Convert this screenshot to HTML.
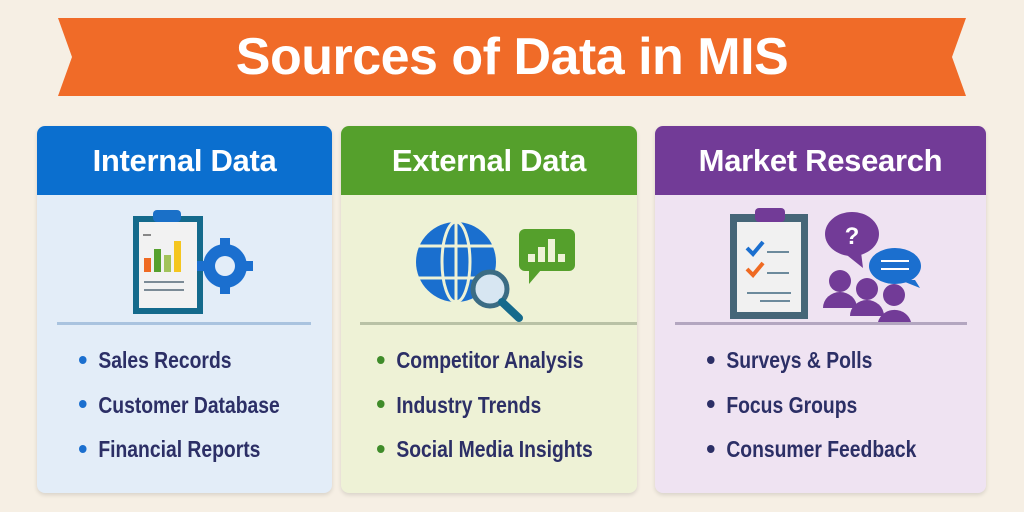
<!DOCTYPE html>
<html><head><style>
body{margin:0;width:1024px;height:512px;background:#f6efe4;font-family:"Liberation Sans",sans-serif;position:relative;overflow:hidden}
.ban{position:absolute;left:0;top:0}
.title{position:absolute;left:0;width:1024px;top:24px;text-align:center;color:#fff;font-weight:bold;font-size:52px;line-height:66px;letter-spacing:-0.5px}
.card{position:absolute;top:126px;height:367px;border-radius:8px;box-shadow:0 2px 4px rgba(0,0,0,.12);overflow:hidden}
.hd{height:69px;color:#fff;font-weight:bold;font-size:31px;line-height:69px;text-align:center;letter-spacing:-0.3px}
.div{position:absolute;top:196px;height:3px}
ul{position:absolute;top:220px;margin:0;padding:0;list-style:none}
li{font-weight:bold;font-size:23px;color:#2c2f66;height:44.5px;line-height:28px;white-space:nowrap;transform:scaleX(.84);transform-origin:left}
li b{display:inline-block;width:9px;height:8px;border-radius:50%;margin-right:14px;vertical-align:middle;position:relative;top:-2px}
svg.ic{position:absolute;top:80px}
</style></head><body>
<svg class="ban" width="1024" height="110"><polygon points="58,18 966,18 952,57 966,96 58,96 72,57" fill="#f06b28"/></svg>
<div class="title">Sources of Data in MIS</div>

<div class="card" style="left:37px;width:295px;background:#e3edf8">
<div class="hd" style="background:#0b6fcf">Internal Data</div>
<svg class="ic" style="left:90px" width="140" height="110">
<rect x="6" y="10" width="70" height="98" fill="#146a8c"/><rect x="12" y="16" width="58" height="86" fill="#f2f2f2"/>
<rect x="26" y="4" width="28" height="12" rx="4" fill="#1a70c8"/>
<rect x="16" y="28" width="8" height="2" fill="#888"/>
<rect x="17" y="52" width="7" height="14" fill="#ef6a22"/><rect x="27" y="43" width="7" height="23" fill="#57a12e"/><rect x="37" y="49" width="7" height="17" fill="#a2c35a"/><rect x="47" y="35" width="7" height="31" fill="#f5c61f"/>
<rect x="17" y="75" width="40" height="2" fill="#7c8b96"/><rect x="17" y="83" width="40" height="2" fill="#7c8b96"/>
<circle cx="98" cy="60" r="22" fill="#1b6fcf"/><circle cx="98" cy="60" r="10" fill="#e3edf8"/>
<g fill="#1b6fcf"><rect x="93" y="32" width="10" height="10"/><rect x="93" y="78" width="10" height="10"/><rect x="70" y="55" width="10" height="10"/><rect x="116" y="55" width="10" height="10"/></g>
</svg>
<div class="div" style="left:20px;width:254px;background:#a9c3df"></div>
<ul style="left:42px"><li><b style="background:#1b6fcf"></b>Sales Records</li><li><b style="background:#1b6fcf"></b>Customer Database</li><li><b style="background:#1b6fcf"></b>Financial Reports</li></ul>
</div>

<div class="card" style="left:341px;width:296px;background:#eef2d6">
<div class="hd" style="background:#55a02c">External Data</div>
<svg class="ic" style="left:70px" width="180" height="120">
<circle cx="45" cy="56" r="40" fill="#1a6fcf"/>
<g stroke="#eef2d6" stroke-width="3" fill="none"><ellipse cx="45" cy="56" rx="14" ry="40"/><line x1="5" y1="40" x2="85" y2="40"/><line x1="5" y1="72" x2="85" y2="72"/><line x1="45" y1="16" x2="45" y2="96"/></g>
<circle cx="79" cy="83" r="17" fill="#d7e6f2" stroke="#3b6c84" stroke-width="5"/>
<line x1="91" y1="96" x2="108" y2="112" stroke="#156a8c" stroke-width="8" stroke-linecap="round"/>
<rect x="108" y="23" width="56" height="42" rx="6" fill="#55a02c"/><polygon points="118,64 130,64 118,78" fill="#55a02c"/>
<g fill="#eef2d6"><rect x="117" y="48" width="7" height="8"/><rect x="127" y="41" width="7" height="15"/><rect x="137" y="33" width="7" height="23"/><rect x="147" y="48" width="7" height="8"/></g>
</svg>
<div class="div" style="left:19px;width:278px;background:#b9c2a6"></div>
<ul style="left:36px"><li><b style="background:#3f8c2a"></b>Competitor Analysis</li><li><b style="background:#3f8c2a"></b>Industry Trends</li><li><b style="background:#3f8c2a"></b>Social Media Insights</li></ul>
</div>

<div class="card" style="left:655px;width:331px;background:#efe3f2">
<div class="hd" style="background:#723b97">Market Research</div>
<svg class="ic" style="left:70px" width="200" height="120">
<rect x="5" y="8" width="78" height="105" fill="#466678"/><rect x="12" y="16" width="64" height="90" fill="#f1f1f1"/>
<rect x="30" y="2" width="30" height="14" rx="4" fill="#723b97"/>
<path d="M22 42l6 6 10-12" stroke="#1b6fcf" stroke-width="4" fill="none"/><path d="M22 63l6 6 10-12" stroke="#ef6a22" stroke-width="4" fill="none"/>
<g fill="#6c8a9c"><rect x="42" y="45" width="22" height="2"/><rect x="42" y="66" width="22" height="2"/><rect x="22" y="86" width="44" height="2"/><rect x="35" y="94" width="30" height="2"/></g>
<ellipse cx="127" cy="28" rx="27" ry="22" fill="#723b97"/><polygon points="118,46 136,46 138,62" fill="#723b97"/>
<text x="127" y="38" fill="#fff" font-weight="bold" font-size="24" text-anchor="middle" font-family="Liberation Sans">?</text>
<ellipse cx="170" cy="60" rx="26" ry="18" fill="#1b6fcf"/><polygon points="175,74 190,74 195,82" fill="#1b6fcf"/>
<g fill="#fff"><rect x="156" y="54" width="28" height="2"/><rect x="156" y="62" width="28" height="2"/></g>
<g fill="#723b97"><circle cx="115" cy="75" r="11"/><path d="M98 102a17 16 0 0 1 34 0z"/><circle cx="142" cy="83" r="11"/><path d="M125 110a17 16 0 0 1 34 0z"/><circle cx="169" cy="89" r="11"/><path d="M153 116a17 16 0 0 1 33 0z"/></g>
</svg>
<div class="div" style="left:20px;width:292px;background:#b3a6c0"></div>
<ul style="left:52px"><li><b style="background:#2c2f66"></b>Surveys &amp; Polls</li><li><b style="background:#2c2f66"></b>Focus Groups</li><li><b style="background:#2c2f66"></b>Consumer Feedback</li></ul>
</div>
</body></html>
